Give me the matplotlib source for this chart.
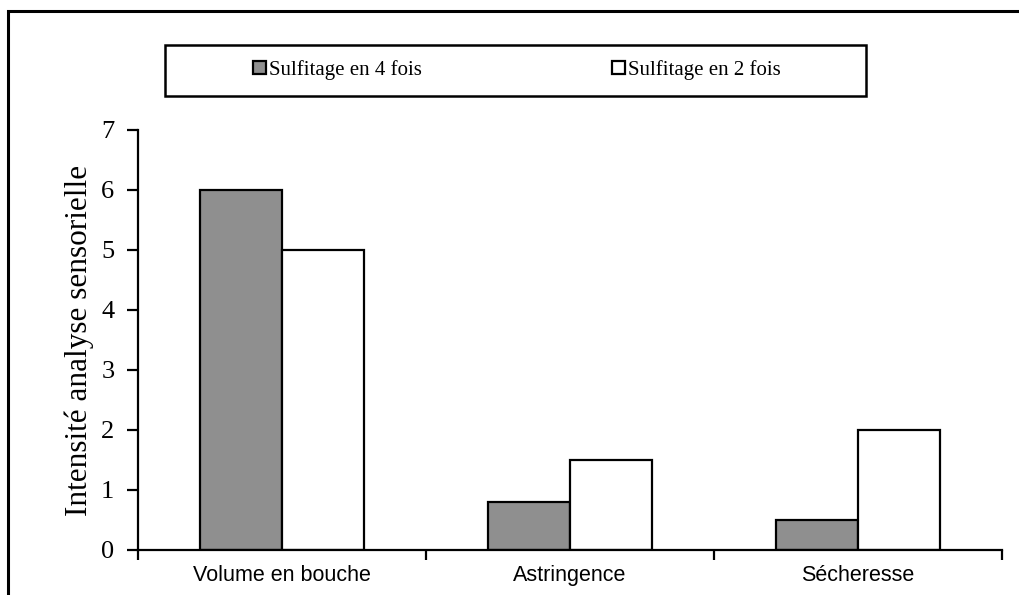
import numpy as np
import matplotlib
matplotlib.use("Agg")
import matplotlib.pyplot as plt
from matplotlib.patches import Rectangle

categories = ["Volume en bouche", "Astringence", "Sécheresse"]
sulfitage_4 = [6.0, 0.8, 0.5]
sulfitage_2 = [5.0, 1.5, 2.0]
series_names = ["Sulfitage en 4 fois", "Sulfitage en 2 fois"]

W, H = 1019, 595
fig = plt.figure(figsize=(W / 100, H / 100), dpi=100)

# outer frame (cropped on right and bottom)
fig.patches.append(Rectangle((8 / W, -0.1), 1.2, 1 - 11 / H + 0.1, transform=fig.transFigure,
                             fill=False, ec="black", lw=2.2))

ax = fig.add_axes([138 / W, 1 - 550 / H, 864 / W, 420 / H])
x = np.arange(len(categories))
w = 0.285
b1 = ax.bar(x - w / 2, sulfitage_4, w, color="#8f8f8f", edgecolor="black", lw=1.6, label=series_names[0])
b2 = ax.bar(x + w / 2, sulfitage_2, w, color="white", edgecolor="black", lw=1.6, label=series_names[1])

ax.set_xlim(-0.5, 2.5)
ax.set_ylim(0, 7)
ax.spines["top"].set_visible(False)
ax.spines["right"].set_visible(False)
ax.spines["left"].set_linewidth(1.6)
ax.spines["bottom"].set_linewidth(1.6)

ax.set_xticks([-0.5, 0.5, 1.5, 2.5])
ax.set_xticklabels([])
ax.set_xticks(x, minor=True)
ax.set_xticklabels(categories, minor=True, fontfamily="Liberation Sans", fontsize=15.5)
ax.tick_params(axis="x", which="major", length=7, width=1.6, direction="out")
ax.tick_params(axis="x", which="minor", length=0, pad=11)
ax.set_yticks(range(8))
ax.set_yticklabels([str(v) for v in range(8)], fontfamily="Liberation Serif", fontsize=19)
ax.tick_params(axis="y", length=8, width=1.6, direction="out", pad=9)
ax.set_ylabel("Intensité analyse sensorielle", fontfamily="Liberation Serif", fontsize=22.5, labelpad=5)

# legend box
fig.patches.append(Rectangle((165 / W, 1 - 96 / H), 701 / W, 51 / H, transform=fig.transFigure,
                             fill=False, ec="black", lw=1.8))
leg = fig.legend(handles=[b1, b2], loc="center", bbox_to_anchor=(517 / W, 1 - 70 / H), ncol=2,
                 frameon=False, handlelength=0.6, handleheight=0.6, handletextpad=0.15,
                 columnspacing=9.15, prop={"family": "Liberation Serif", "size": 15})

fig.savefig("out.png", dpi=100)
